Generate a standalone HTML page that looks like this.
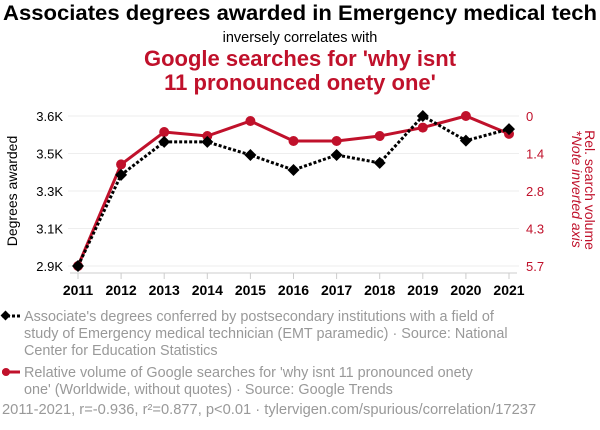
<!DOCTYPE html>
<html><head><meta charset="utf-8"><style>
body{margin:0;background:#fff;width:600px;height:430px;overflow:hidden;font-family:"Liberation Sans",Arial,sans-serif}
</style></head><body>
<svg width="600" height="430" style="position:absolute;left:0;top:0" font-family="Liberation Sans, Arial, sans-serif">
<text x="300" y="20" text-anchor="middle" font-size="21" font-weight="bold" fill="#000" textLength="594" lengthAdjust="spacingAndGlyphs">Associates degrees awarded in Emergency medical tech</text>
<text x="300" y="42" text-anchor="middle" font-size="14.5" fill="#000">inversely correlates with</text>
<text x="300" y="66" text-anchor="middle" font-size="22" font-weight="bold" fill="#c0112b">Google searches for 'why isnt</text>
<text x="300" y="90" text-anchor="middle" font-size="22" font-weight="bold" fill="#c0112b">11 pronounced onety one'</text>
<text transform="translate(17,191) rotate(-90)" text-anchor="middle" font-size="14" fill="#000">Degrees awarded</text>
<text transform="translate(585,190) rotate(90)" text-anchor="middle" font-size="14" fill="#c0112b">Rel. search volume</text>
<text transform="translate(572,189) rotate(90)" text-anchor="middle" font-size="14" font-style="italic" fill="#c0112b">*Note inverted axis</text>
<g id="grid"></g><g id="axes"></g><g id="series"></g>
<g>
<line x1="2" y1="316" x2="20" y2="316" stroke="#000" stroke-width="3" stroke-dasharray="3,2"/>
<rect x="2" y="312" width="7" height="7" transform="rotate(45 5.5 315.5)" fill="#000"/>
<text x="24" y="321" font-size="14.4" fill="#999">Associate's degrees conferred by postsecondary institutions with a field of</text>
<text x="24" y="338" font-size="14.4" fill="#999">study of Emergency medical technician (EMT paramedic) · Source: National</text>
<text x="24" y="355" font-size="14.4" fill="#999">Center for Education Statistics</text>
</g>
<g>
<line x1="2" y1="372" x2="20" y2="372" stroke="#c0112b" stroke-width="3"/>
<circle cx="6" cy="372" r="4" fill="#c0112b"/>
<text x="24" y="377" font-size="14.4" fill="#999">Relative volume of Google searches for 'why isnt 11 pronounced onety</text>
<text x="24" y="394" font-size="14.4" fill="#999">one' (Worldwide, without quotes) · Source: Google Trends</text>
</g>
<text x="2" y="414" font-size="14.7" fill="#999">2011-2021, r=-0.936, r²=0.877, p&lt;0.01 · tylervigen.com/spurious/correlation/17237</text>
</svg>
<script>
const years=[2011,2012,2013,2014,2015,2016,2017,2018,2019,2020,2021];
const degrees=[2900,3325,3479,3479,3418,3348,3418,3381,3600,3485,3539];
const searches=[5.7,1.84,0.61,0.76,0.19,0.95,0.95,0.76,0.44,0,0.68];
const leftTicks=[2900,3075,3250,3425,3600];
const leftTickLabels=["2.9K","3.1K","3.3K","3.5K","3.6K"];
const rightTicks=[0,1.425,2.85,4.275,5.7];
const rightTickLabels=["0","1.4","2.8","4.3","5.7"];
const NS="http://www.w3.org/2000/svg";
const X0=78,X1=509,YT=116,YB=266;
const LMIN=2900,LMAX=3600,RMIN=0,RMAX=5.7;
function xs(i){return X0+(X1-X0)*i/(years.length-1);}
function yl(v){return YB-(v-LMIN)/(LMAX-LMIN)*(YB-YT);}
function yr(v){return YT+(v-RMIN)/(RMAX-RMIN)*(YB-YT);}
function mk(t,a,p){const e=document.createElementNS(NS,t);for(const k in a)e.setAttribute(k,a[k]);p.appendChild(e);return e;}
const grid=document.getElementById('grid'),axes=document.getElementById('axes'),ser=document.getElementById('series');
leftTicks.forEach((v,i)=>{
 const g=mk('line',{x1:68,x2:519,y1:yl(v),y2:yl(v),stroke:'#eee','stroke-width':1},grid);
 
 
 const t=mk('text',{x:63,y:yl(v)+5,'text-anchor':'end','font-size':13,fill:'#000'},axes);
 t.textContent=leftTickLabels[i];
 
 
});
rightTicks.forEach((v,i)=>{
 const t=mk('text',{x:526,y:yr(v)+5,'font-size':13,fill:'#c0112b'},axes);
 t.textContent=rightTickLabels[i];
 
 
});
const base=mk('line',{x1:70,x2:517,y1:273,y2:273,stroke:'#ccc','stroke-width':1},axes);


years.forEach((y,i)=>{
 mk('line',{x1:xs(i),x2:xs(i),y1:273,y2:279,stroke:'#ccc'},axes);
 const t=mk('text',{x:xs(i),y:295,'text-anchor':'middle','font-size':14,'font-weight':'bold',fill:'#000'},axes);
 t.textContent=y;
 
 
});
const rl=mk('polyline',{points:searches.map((v,i)=>xs(i)+','+yr(v)).join(' '),fill:'none',stroke:'#c0112b','stroke-width':3},ser);


searches.forEach((v,i)=>{
 const c=mk('circle',{cx:xs(i),cy:yr(v),r:5,fill:'#c0112b'},ser);
 
 
});
const bl=mk('polyline',{points:degrees.map((v,i)=>xs(i)+','+yl(v)).join(' '),fill:'none',stroke:'#000','stroke-width':3,'stroke-dasharray':'3,2'},ser);


degrees.forEach((v,i)=>{
 const x=xs(i),y=yl(v);
 const d=mk('polygon',{points:`${x},${y-6} ${x+6},${y} ${x},${y+6} ${x-6},${y}`,fill:'#000'},ser);
 
 
});
</script>
</body></html>
